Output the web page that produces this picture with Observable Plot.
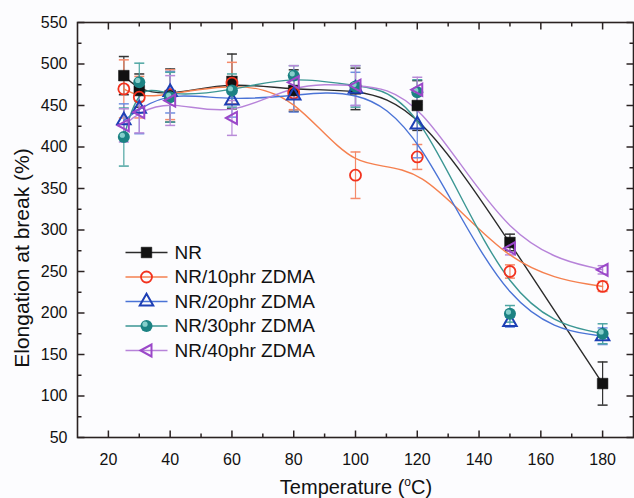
<!DOCTYPE html>
<html><head><meta charset="utf-8">
<script src="https://cdn.jsdelivr.net/npm/d3@7"></script>
<script src="https://cdn.jsdelivr.net/npm/@observablehq/plot@0.6"></script>
<style>
html,body{margin:0;padding:0;background:#fcfcfe;}
#chart{width:634px;height:498px;}
</style></head><body><div id="chart"></div>
<script>
// ---- data ----
const temps = [25, 30, 40, 60, 80, 100, 120, 150, 180];
const seriesNames = ["NR", "NR/10phr ZDMA", "NR/20phr ZDMA", "NR/30phr ZDMA", "NR/40phr ZDMA"];
const nrValues   = [486, 468, 462, 479, 468, 470, 450, 285, 115];
const nrErrors   = [23, 20, 32, 33, 25, 25, 30, 10, 26];
const zd10Values = [470, 460, 463, 477, 465, 366, 388, 250, 232];
const zd10Errors = [35, 25, 30, 25, 20, 28, 15, 8, 6];
const zd20Values = [432, 446, 466, 456, 462, 470, 427, 189, 172];
const zd20Errors = [20, 30, 25, 20, 20, 20, 40, 6, 10];
const zd30Values = [412, 478, 460, 468, 486, 473, 466, 199, 175];
const zd30Errors = [35, 23, 30, 20, 12, 25, 15, 10, 12];
const zd40Values = [426, 442, 456, 435, 478, 474, 469, 278, 252];
const zd40Errors = [20, 25, 30, 21, 20, 24, 15, 8, 5];
const xTicks = [20, 40, 60, 80, 100, 120, 140, 160, 180];
const xMinorTicks = [30, 50, 70, 90, 110, 130, 150, 170];
const yTicks = [50, 100, 150, 200, 250, 300, 350, 400, 450, 500, 550];
const yMinorTicks = [75, 125, 175, 225, 275, 325, 375, 425, 475, 525];

// ---- styles ----
const lineColors = ["#2b2b2b", "#f5804f", "#4a73d6", "#3b9693", "#b783d9"];
const errColors  = ["#333333", "#f58a6a", "#6f8fe0", "#4da5a2", "#b88ad8"];
const frameColor = "#2a2222";
const textColor = "#111";

const allValues = [nrValues, zd10Values, zd20Values, zd30Values, zd40Values];
const allErrors = [nrErrors, zd10Errors, zd20Errors, zd30Errors, zd40Errors];
const series = seriesNames.map((name, i) => temps.map((t, j) => ({series: name, t, v: allValues[i][j], e: allErrors[i][j]})));

const seg = (x1, y1, x2, y2) => ({draw(c) { c.moveTo(x1, y1); c.lineTo(x2, y2); }});
const leftTri = {draw(c) { c.moveTo(-6, 0); c.lineTo(5, -6); c.lineTo(5, 6); c.closePath(); }};
const capSym = seg(-5, 0, 5, 0);

function markerMarks(i, data, pos) {
  const dx = pos.dx || 0, dy = pos.dy || 0;
  switch (i) {
    case 0: return [Plot.dot(data, {...pos, symbol: "square", r: 6, fill: "#111", stroke: "#111", strokeWidth: 0.5})];
    case 1: return [Plot.dot(data, {...pos, symbol: "circle", r: 5.5, fill: "none", stroke: "#f2321e", strokeWidth: 1.8})];
    case 2: return [Plot.dot(data, {...pos, symbol: "triangle", r: 5, fill: "none", stroke: "#1d3fb5", strokeWidth: 2})];
    case 3: return [
      Plot.dot(data, {...pos, symbol: "circle", r: 6, fill: "#1c8283"}),
      Plot.dot(data, {...pos, symbol: "circle", r: 2.6, fill: "#86cfcb", dx: dx - 1.5, dy: dy - 1.8})
    ];
    case 4: return [Plot.dot(data, {...pos, symbol: leftTri, fill: "none", stroke: "#9b48c9", strokeWidth: 2})];
  }
}

const marks = [];
// ticks (inward, mirrored)
const tk = {fill: "none", stroke: frameColor, strokeWidth: 1.5};
marks.push(
  Plot.dot(xTicks, {x: d => d, frameAnchor: "bottom", symbol: seg(0, 0, 0, -7), ...tk}),
  Plot.dot(xMinorTicks, {x: d => d, frameAnchor: "bottom", symbol: seg(0, 0, 0, -4), ...tk}),
  Plot.dot(xTicks, {x: d => d, frameAnchor: "top", symbol: seg(0, 0, 0, 7), ...tk}),
  Plot.dot(xMinorTicks, {x: d => d, frameAnchor: "top", symbol: seg(0, 0, 0, 4), ...tk}),
  Plot.dot(yTicks, {y: d => d, frameAnchor: "left", symbol: seg(0, 0, 7, 0), ...tk}),
  Plot.dot(yMinorTicks, {y: d => d, frameAnchor: "left", symbol: seg(0, 0, 4, 0), ...tk}),
  Plot.dot(yTicks, {y: d => d, frameAnchor: "right", symbol: seg(0, 0, -7, 0), ...tk}),
  Plot.dot(yMinorTicks, {y: d => d, frameAnchor: "right", symbol: seg(0, 0, -4, 0), ...tk}),
  Plot.axisX({ticks: xTicks, tickSize: 0, tickPadding: 16, fontSize: 16, fill: textColor, label: null}),
  Plot.axisY({ticks: yTicks, tickSize: 0, tickPadding: 10, fontSize: 16, fill: textColor, label: null})
);
// error bars
series.forEach((data, i) => {
  marks.push(
    Plot.ruleX(data, {x: "t", y1: d => d.v - d.e, y2: d => d.v + d.e, stroke: errColors[i], strokeWidth: 1.2}),
    Plot.dot(data, {x: "t", y: d => d.v - d.e, symbol: capSym, fill: "none", stroke: errColors[i], strokeWidth: 1.5}),
    Plot.dot(data, {x: "t", y: d => d.v + d.e, symbol: capSym, fill: "none", stroke: errColors[i], strokeWidth: 1.5})
  );
});
// fitted (B-spline) lines
series.forEach((data, i) => {
  marks.push(Plot.line(data, {x: "t", y: "v", curve: "basis", stroke: lineColors[i], strokeWidth: 1.4}));
});
// markers
series.forEach((data, i) => marks.push(...markerMarks(i, data, {x: "t", y: "v"})));
// legend
seriesNames.forEach((name, i) => {
  const rowDy = 230 + i * 24.5;
  marks.push(Plot.dot([0], {frameAnchor: "top-left", dx: 69, dy: rowDy, symbol: seg(-21, 0, 21, 0), fill: "none", stroke: lineColors[i], strokeWidth: 1.4}));
  marks.push(...markerMarks(i, [0], {frameAnchor: "top-left", dx: 69, dy: rowDy}));
  marks.push(Plot.text([name], {frameAnchor: "top-left", dx: 97, dy: rowDy, text: d => d, textAnchor: "start", lineAnchor: "middle", fontSize: 19, fill: textColor}));
});
marks.push(Plot.frame({stroke: frameColor, strokeWidth: 1.6}));

const svg = Plot.plot({
  width: 634, height: 498,
  marginLeft: 77, marginRight: 1, marginTop: 22, marginBottom: 61,
  x: {domain: [10, 190]},
  y: {domain: [50, 550]},
  style: {fontFamily: "'Liberation Sans', Arial, sans-serif", background: "#fcfcfe", color: textColor},
  marks
});
document.getElementById("chart").appendChild(svg);

// axis titles
const s = d3.select(svg);
const xt = s.append("text").attr("x", 356).attr("y", 494).attr("text-anchor", "middle")
  .attr("font-size", 20).attr("fill", textColor).attr("font-family", "'Liberation Sans', Arial, sans-serif");
xt.append("tspan").text("Temperature (");
xt.append("tspan").attr("dy", -8).attr("font-size", 12).text("o");
xt.append("tspan").attr("dy", 8).text("C)");
s.append("text").attr("transform", "translate(29,258) rotate(-90)").attr("text-anchor", "middle")
  .attr("font-size", 21).attr("fill", textColor).attr("font-family", "'Liberation Sans', Arial, sans-serif")
  .text("Elongation at break (%)");
</script></body></html>
